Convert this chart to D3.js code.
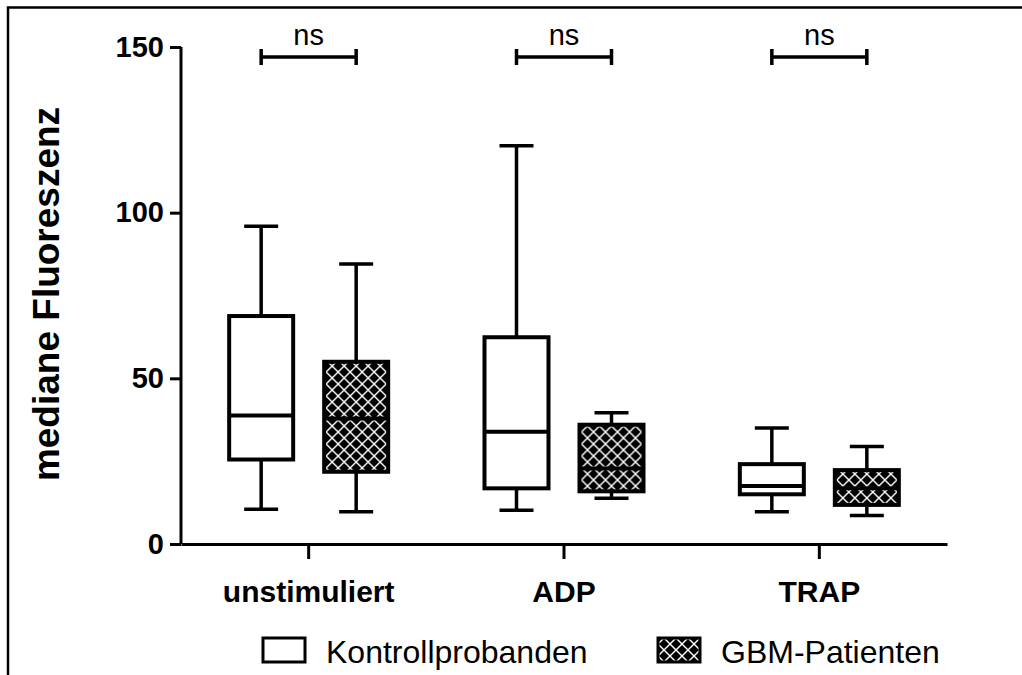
<!DOCTYPE html>
<html>
<head>
<meta charset="utf-8">
<title>mediane Fluoreszenz</title>
<script src="https://cdn.jsdelivr.net/npm/d3@7"></script>
<style>
  body { margin: 0; background: #fff; overflow: hidden; }
  svg { display: block; font-family: "Liberation Sans", Arial, sans-serif; }
  .axis path, .axis line { stroke: #000; stroke-width: 3; }
  .axis text { font-size: 29px; font-weight: bold; fill: #000; }
  .box { stroke: #000; stroke-width: 4; }
  .whisker { stroke: #000; stroke-width: 3.5; }
  .legend text { font-size: 32px; fill: #000; }
  .sig text { font-size: 29px; fill: #000; }
</style>
</head>
<body>
<svg id="chart" width="1022" height="675"></svg>
<script>
// data: [min, Q1, median, Q3, max]
const categories = ['unstimuliert', 'ADP', 'TRAP'];
const series = ['Kontrollprobanden', 'GBM-Patienten'];
const kontrollStats = [
  [10.5, 25.5, 38.8, 68.8, 95.9],
  [10.2, 16.8, 33.9, 62.4, 120.2],
  [9.7, 15.0, 17.5, 24.1, 35.0]
];
const gbmStats = [
  [9.7, 21.8, 37.9, 55.0, 84.5],
  [13.8, 15.9, 22.8, 36.0, 39.6],
  [8.6, 11.8, 16.8, 22.3, 29.4]
];
const yTicks = [0, 50, 100, 150];
const sigLabels = ['ns', 'ns', 'ns'];
const sigValue = 147;

const svg = d3.select('#chart');

// pattern for GBM boxes
const defs = svg.append('defs');
const pat = defs.append('pattern')
  .attr('id', 'hatch')
  .attr('patternUnits', 'userSpaceOnUse')
  .attr('width', 12).attr('height', 12);
pat.append('rect').attr('width', 12).attr('height', 12).attr('fill', '#fff');
const r = 5;
[[0, 0], [12, 0], [0, 12], [12, 12], [6, 6]].forEach(c => {
  pat.append('path')
    .attr('d', `M${c[0]},${c[1] - r} L${c[0] + r},${c[1]} L${c[0]},${c[1] + r} L${c[0] - r},${c[1]} Z`)
    .attr('fill', '#000');
});

// outer frame (only left and top edges are inside the picture)
svg.append('path')
  .attr('d', 'M8,680V7.5H1030')
  .attr('fill', 'none').attr('stroke', '#000').attr('stroke-width', 2.5);

const y = d3.scaleLinear().domain([0, 150]).range([544, 47]);
const x = d3.scaleBand().domain(categories).range([181, 947]);
const xs = d3.scalePoint().domain(series).range([-47.5, 47.5]);
const boxW = 64, capW = 34;
const fills = ['#fff', 'url(#hatch)'];

// y axis
svg.append('g')
  .attr('class', 'axis')
  .attr('transform', 'translate(181,0)')
  .call(d3.axisLeft(y).tickValues(yTicks).tickSize(11).tickSizeOuter(0).tickPadding(6))
  .call(g => g.select('.domain').attr('d', `M0,${y(150)}V${y(0)}`));

// x axis
svg.append('g')
  .attr('class', 'axis')
  .attr('transform', 'translate(0,544)')
  .call(d3.axisBottom(x).tickSize(15).tickSizeOuter(0).tickPadding(22))
  .call(g => g.selectAll('text').style('font-size', '30px'));

// boxes
const rows = [];
categories.forEach((c, i) => {
  rows.push({ cat: c, s: series[0], st: kontrollStats[i], k: 0 });
  rows.push({ cat: c, s: series[1], st: gbmStats[i], k: 1 });
});

const bx = svg.append('g').selectAll('g').data(rows).join('g')
  .attr('transform', d => `translate(${x(d.cat) + x.bandwidth() / 2 + xs(d.s)},0)`);

bx.append('line').attr('class', 'whisker')
  .attr('x1', 0).attr('x2', 0)
  .attr('y1', d => y(d.st[4])).attr('y2', d => y(d.st[0]));
bx.append('line').attr('class', 'whisker')
  .attr('x1', -capW / 2).attr('x2', capW / 2)
  .attr('y1', d => y(d.st[4])).attr('y2', d => y(d.st[4]));
bx.append('line').attr('class', 'whisker')
  .attr('x1', -capW / 2).attr('x2', capW / 2)
  .attr('y1', d => y(d.st[0])).attr('y2', d => y(d.st[0]));
bx.append('rect').attr('class', 'box')
  .attr('x', -boxW / 2).attr('width', boxW)
  .attr('y', d => y(d.st[3]))
  .attr('height', d => y(d.st[1]) - y(d.st[3]))
  .attr('fill', d => fills[d.k]);
bx.append('line').attr('class', 'box')
  .attr('x1', -boxW / 2).attr('x2', boxW / 2)
  .attr('y1', d => y(d.st[2])).attr('y2', d => y(d.st[2]));

// significance brackets
const sig = svg.append('g').attr('class', 'sig').selectAll('g').data(categories).join('g')
  .attr('transform', c => `translate(${x(c) + x.bandwidth() / 2},${y(sigValue)})`);
sig.append('path')
  .attr('d', `M${xs(series[0])},-8V8M${xs(series[0])},0H${xs(series[1])}M${xs(series[1])},-8V8`)
  .attr('fill', 'none').attr('stroke', '#000').attr('stroke-width', 3.5);
sig.append('text')
  .attr('text-anchor', 'middle')
  .attr('y', -12)
  .text((c, i) => sigLabels[i]);

// y label
svg.append('text')
  .attr('transform', 'translate(59,294) rotate(-90)')
  .attr('text-anchor', 'middle')
  .style('font-size', '37px').style('font-weight', 'bold')
  .text('mediane Fluoreszenz');

// legend
const legX = [263, 658];
const leg = svg.append('g').attr('class', 'legend').selectAll('g').data(series).join('g')
  .attr('transform', (s, i) => `translate(${legX[i]},638)`);
leg.append('rect')
  .attr('width', 42).attr('height', 24)
  .attr('fill', (s, i) => fills[i])
  .attr('stroke', '#000').attr('stroke-width', 3);
leg.append('text')
  .attr('x', 63).attr('y', 25)
  .text(s => s);
</script>
</body>
</html>
